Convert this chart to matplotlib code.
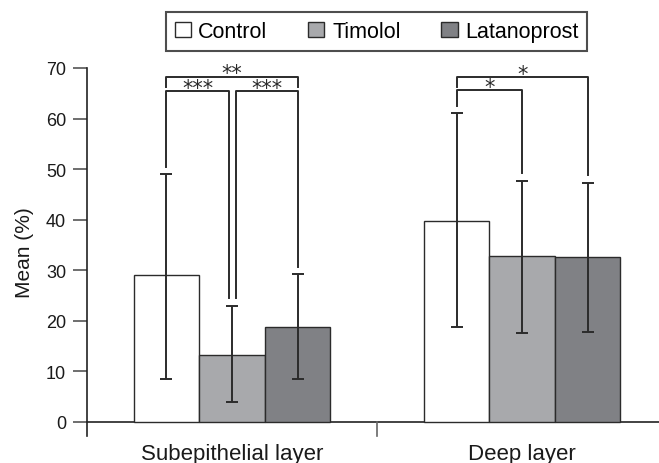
"""Mean (%) by layer for Control / Timolol / Latanoprost, with significance brackets."""

import matplotlib

matplotlib.use("Agg", force=True)
import matplotlib.pyplot as plt
from matplotlib.patches import Patch

# Data.
layers = ["Subepithelial layer", "Deep layer"]
treatments = ["Control", "Timolol", "Latanoprost"]
means = {
    "Control": [29.0, 39.8],
    "Timolol": [13.2, 32.8],
    "Latanoprost": [18.8, 32.6],
}
err_low = {
    "Control": [20.5, 21.1],
    "Timolol": [9.2, 15.3],
    "Latanoprost": [10.3, 14.8],
}
err_high = {
    "Control": [20.0, 21.2],
    "Timolol": [9.8, 14.9],
    "Latanoprost": [10.4, 14.7],
}
# (layer index, bar a, bar b, bracket height, label)
brackets = [
    (0, 0, 1, 65.4, "***"),
    (0, 1, 2, 65.4, "***"),
    (0, 0, 2, 68.3, "**"),
    (1, 0, 1, 65.6, "*"),
    (1, 0, 2, 68.2, "*"),
]

colors = {"Control": "#ffffff", "Timolol": "#a8a9ac", "Latanoprost": "#808185"}
EDGE = "#2b2b2b"
TEXT = "#1a1a1a"
BAR_W = 0.226


def bar_x(layer_idx, treat_idx):
    return layer_idx + (treat_idx - 1) * BAR_W


def main():
    plt.rcParams["font.family"] = ["Liberation Sans", "DejaVu Sans"]
    fig = plt.figure(figsize=(6.59, 4.64), dpi=100)
    ax = fig.add_axes([0.132, 0.0582, 0.868, 0.7931])

    for ti, name in enumerate(treatments):
        xs = [bar_x(li, ti) for li in range(len(layers))]
        ax.bar(xs, means[name], width=BAR_W, color=colors[name],
               edgecolor=EDGE, linewidth=1.0, zorder=2)
        ax.errorbar(xs, means[name], yerr=[err_low[name], err_high[name]],
                    fmt="none", ecolor=EDGE, elinewidth=1.4, capsize=4.5,
                    capthick=1.4, zorder=3)

    # significance brackets: legs stop a little above the error bar tops,
    # inner brackets sharing a bar are nudged apart
    for li, a, b, h, label in brackets:
        xa, xb = bar_x(li, a), bar_x(li, b)
        if li == 0 and a == 0 and b == 1:
            xb -= 0.012
        if li == 0 and a == 1 and b == 2:
            xa += 0.012
        tops = []
        for idx in (a, b):
            name = treatments[idx]
            tops.append(means[name][li] + err_high[name][li] + 1.5)
        # outer brackets only have short legs on bars covered by an inner one
        if h > 67:
            if li == 0:
                tops = [h - 2.0, h - 2.0]
            else:
                tops[0] = h - 2.0
        ax.plot([xa, xa, xb, xb], [tops[0], h, h, tops[1]], color=EDGE,
                lw=1.4, clip_on=False, zorder=4)
        ax.text((xa + xb) / 2, h - 0.5, label, ha="center", va="baseline",
                fontsize=15, color=EDGE, clip_on=False, family="DejaVu Sans")

    ax.set_xlim(-0.5, 1.472)
    ax.set_ylim(-2.8, 70)
    ax.set_yticks(range(0, 71, 10))
    ax.tick_params(axis="y", length=10, width=1.2, color="#555555",
                   labelsize=13, pad=5, labelcolor=TEXT)
    ax.set_xticks([])
    for side in ("top", "right", "bottom"):
        ax.spines[side].set_visible(False)
    ax.spines["left"].set_bounds(-2.8, 70)
    ax.spines["left"].set_linewidth(1.2)
    ax.spines["left"].set_color("#222222")
    ax.plot([-0.5, 1.472], [0, 0], color="#222222", lw=1.2, clip_on=False,
            zorder=1)
    ax.plot([0.5, 0.5], [-2.8, 0], color="#666666", lw=1.2, clip_on=False)

    for li, name in enumerate(layers):
        ax.text(li, -0.047, name, transform=ax.get_xaxis_transform(),
                ha="center", va="center", fontsize=16, color=TEXT)

    ax.set_ylabel("Mean (%)", fontsize=15, color=TEXT)
    ax.yaxis.set_label_coords(-0.093, 0.5)

    handles = [Patch(facecolor=colors[t], edgecolor=EDGE, linewidth=1.0)
               for t in treatments]
    leg = fig.legend(handles, treatments, loc="center",
                     bbox_to_anchor=(376.5 / 659, 1 - 32.5 / 464), ncol=3,
                     fontsize=15.5, frameon=True, fancybox=False,
                     handlelength=0.75, handleheight=0.75, handletextpad=0.35,
                     columnspacing=1.9, borderpad=0.4)
    leg.get_frame().set_edgecolor("#222222")
    leg.get_frame().set_linewidth(1.5)

    fig.savefig("out.png", dpi=100)
    plt.close(fig)


if __name__ == "__main__":
    main()
